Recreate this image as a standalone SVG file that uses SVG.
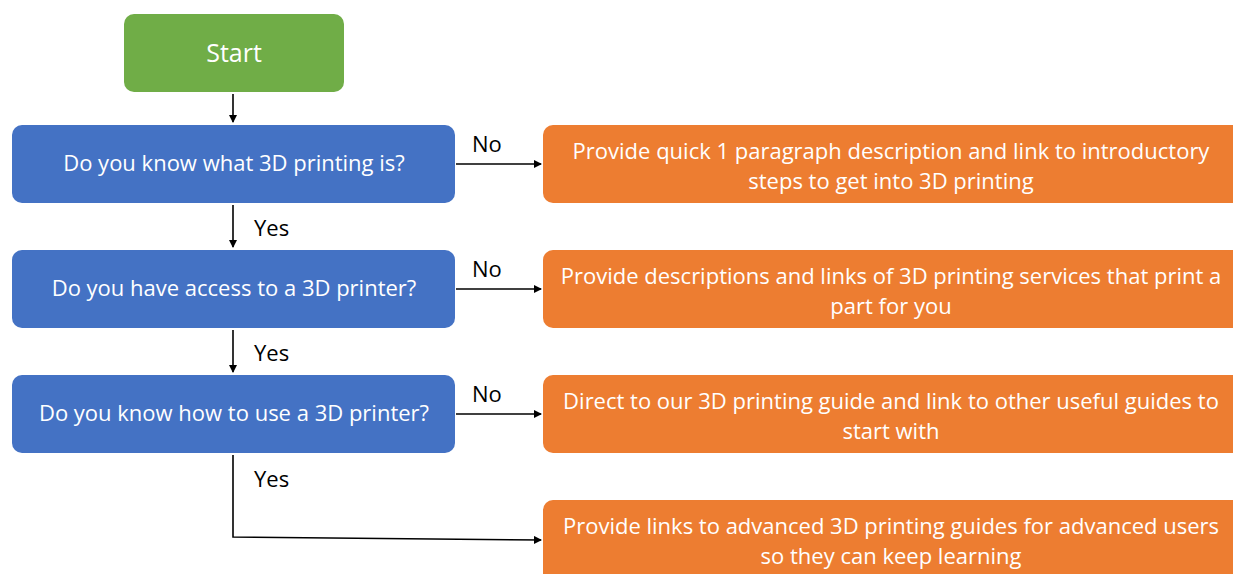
<svg xmlns="http://www.w3.org/2000/svg" width="1233" height="574" viewBox="0 0 1233 574">
<style>
.t{font-family:"Open Sans","Noto Sans","Liberation Sans",sans-serif;font-size:22px;fill:#fff;text-anchor:middle}
.l{font-family:"Open Sans","Noto Sans","Liberation Sans",sans-serif;font-size:22px;fill:#000}
.g{fill:#70AD47}.b{fill:#4472C4}.o{fill:#ED7D31}
.c{stroke:#000;stroke-width:1.6;fill:none;marker-end:url(#a)}
</style>
<defs><marker id="a" markerWidth="8" markerHeight="8" refX="7" refY="4" orient="auto" markerUnits="userSpaceOnUse"><path d="M0,0 L8,4 L0,8 z" fill="#000"/></marker></defs>
<rect width="1233" height="574" fill="#fff"/>
<g id="start"><rect class="g" x="124" y="14" width="220" height="78" rx="10"/><text class="t" x="234" y="62" style="font-size:25px">Start</text></g>
<g id="q1"><rect class="b" x="12" y="125" width="443" height="78" rx="10"/><text class="t" x="234" y="171">Do you know what 3D printing is?</text></g>
<g id="q2"><rect class="b" x="12" y="250" width="443" height="78" rx="10"/><text class="t" x="234" y="296">Do you have access to a 3D printer?</text></g>
<g id="q3"><rect class="b" x="12" y="375" width="443" height="78" rx="10"/><text class="t" x="234" y="421">Do you know how to use a 3D printer?</text></g>
<g id="a1"><rect class="o" x="543" y="125" width="700" height="78" rx="10"/><text class="t" x="891" y="159">Provide quick 1 paragraph description and link to introductory</text><text class="t" x="891" y="189">steps to get into 3D printing</text></g>
<g id="a2"><rect class="o" x="543" y="250" width="700" height="78" rx="10"/><text class="t" x="891" y="284">Provide descriptions and links of 3D printing services that print a</text><text class="t" x="891" y="314">part for you</text></g>
<g id="a3"><rect class="o" x="543" y="375" width="700" height="78" rx="10"/><text class="t" x="891" y="409">Direct to our 3D printing guide and link to other useful guides to</text><text class="t" x="891" y="439">start with</text></g>
<g id="a4"><rect class="o" x="543" y="500" width="700" height="90" rx="10"/><text class="t" x="891" y="534">Provide links to advanced 3D printing guides for advanced users</text><text class="t" x="891" y="564">so they can keep learning</text></g>
<g id="connectors">
<path class="c" d="M233,94 V122"/>
<path class="c" d="M233,205 V247"/>
<path class="c" d="M233,330 V372"/>
<path class="c" d="M233,455 V537 L541,540"/>
<path class="c" d="M456,164 H541"/>
<path class="c" d="M456,289 H541"/>
<path class="c" d="M456,414 H541"/>
<text class="l" x="254" y="236">Yes</text>
<text class="l" x="254" y="361">Yes</text>
<text class="l" x="254" y="487">Yes</text>
<text class="l" x="472" y="152">No</text>
<text class="l" x="472" y="277">No</text>
<text class="l" x="472" y="402">No</text>
</g>
</svg>
